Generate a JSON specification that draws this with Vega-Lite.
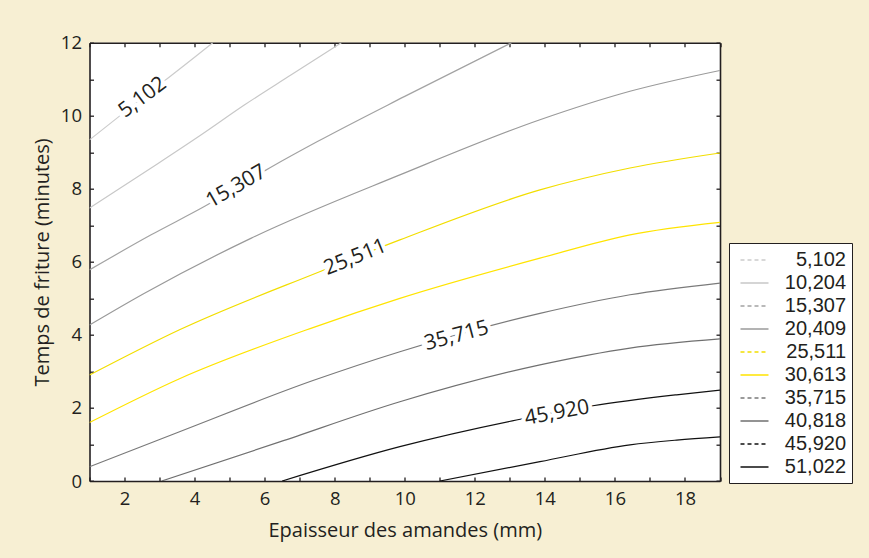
{
  "$schema": "https://vega.github.io/schema/vega-lite/v6.json",
  "width": 630.5,
  "height": 438.3,
  "autosize": {"type": "none"},
  "padding": {"left": 89.5, "top": 42.7, "right": 149, "bottom": 77},
  "background": "#f7efd3",
  "config": {
    "view": {"stroke": null, "fill": "white"},
    "font": "Open Sans",
    "axis": {
      "grid": false,
      "domainColor": "#231f20",
      "domainWidth": 1.6,
      "tickColor": "#231f20",
      "tickWidth": 1.3,
      "tickSize": -4,
      "labelFont": "Open Sans",
      "labelFontSize": 18.5,
      "labelColor": "#231f20",
      "titleFont": "Open Sans",
      "titleFontSize": 20,
      "titleFontWeight": "normal",
      "titleColor": "#231f20"
    }
  },
  "datasets": {
    "lines": [
      {"level": "5,102", "x": 1, "y": 9.34},
      {"level": "5,102", "x": 2, "y": 10.1},
      {"level": "5,102", "x": 3, "y": 10.85},
      {"level": "5,102", "x": 4, "y": 11.6},
      {"level": "5,102", "x": 4.52, "y": 12},
      {"level": "10,204", "x": 1, "y": 7.47},
      {"level": "10,204", "x": 2.76, "y": 8.57},
      {"level": "10,204", "x": 4.19, "y": 9.48},
      {"level": "10,204", "x": 5.43, "y": 10.3},
      {"level": "10,204", "x": 6.76, "y": 11.12},
      {"level": "10,204", "x": 8.19, "y": 12},
      {"level": "15,307", "x": 1, "y": 5.78},
      {"level": "15,307", "x": 2.76, "y": 6.74},
      {"level": "15,307", "x": 4.29, "y": 7.52},
      {"level": "15,307", "x": 6.14, "y": 8.57},
      {"level": "15,307", "x": 7.52, "y": 9.3},
      {"level": "15,307", "x": 10, "y": 10.53},
      {"level": "15,307", "x": 13.05, "y": 12},
      {"level": "20,409", "x": 1, "y": 4.27},
      {"level": "20,409", "x": 2.57, "y": 5.14},
      {"level": "20,409", "x": 5.62, "y": 6.65},
      {"level": "20,409", "x": 9.86, "y": 8.38},
      {"level": "20,409", "x": 13.86, "y": 9.89},
      {"level": "20,409", "x": 16.43, "y": 10.67},
      {"level": "20,409", "x": 19, "y": 11.24},
      {"level": "25,511", "x": 1, "y": 2.9},
      {"level": "25,511", "x": 3.57, "y": 4.14},
      {"level": "25,511", "x": 7.57, "y": 5.73},
      {"level": "25,511", "x": 9.86, "y": 6.6},
      {"level": "25,511", "x": 13.86, "y": 7.97},
      {"level": "25,511", "x": 16.43, "y": 8.57},
      {"level": "25,511", "x": 19, "y": 8.98},
      {"level": "30,613", "x": 1, "y": 1.6},
      {"level": "30,613", "x": 3.57, "y": 2.8},
      {"level": "30,613", "x": 7.38, "y": 4.2},
      {"level": "30,613", "x": 9.86, "y": 5.0},
      {"level": "30,613", "x": 13.86, "y": 6.1},
      {"level": "30,613", "x": 16.43, "y": 6.74},
      {"level": "30,613", "x": 19, "y": 7.08},
      {"level": "35,715", "x": 1, "y": 0.39},
      {"level": "35,715", "x": 3.57, "y": 1.35},
      {"level": "35,715", "x": 7.38, "y": 2.75},
      {"level": "35,715", "x": 9.86, "y": 3.54},
      {"level": "35,715", "x": 13.86, "y": 4.59},
      {"level": "35,715", "x": 16.43, "y": 5.1},
      {"level": "35,715", "x": 19, "y": 5.42},
      {"level": "40,818", "x": 3.06, "y": 0},
      {"level": "40,818", "x": 6.43, "y": 1.07},
      {"level": "40,818", "x": 9.86, "y": 2.17},
      {"level": "40,818", "x": 13.86, "y": 3.18},
      {"level": "40,818", "x": 16.43, "y": 3.64},
      {"level": "40,818", "x": 19, "y": 3.89},
      {"level": "45,920", "x": 6.5, "y": 0},
      {"level": "45,920", "x": 9.86, "y": 0.94},
      {"level": "45,920", "x": 13.19, "y": 1.67},
      {"level": "45,920", "x": 15.37, "y": 2.06},
      {"level": "45,920", "x": 17.76, "y": 2.36},
      {"level": "45,920", "x": 19, "y": 2.49},
      {"level": "51,022", "x": 11, "y": 0},
      {"level": "51,022", "x": 13.86, "y": 0.53},
      {"level": "51,022", "x": 16.43, "y": 0.99},
      {"level": "51,022", "x": 17.76, "y": 1.12},
      {"level": "51,022", "x": 19, "y": 1.21}
    ],
    "labels": [
      {"level": "5,102", "x": 2.52, "y": 10.5},
      {"level": "15,307", "x": 5.19, "y": 8.06},
      {"level": "25,511", "x": 8.59, "y": 6.12},
      {"level": "35,715", "x": 11.48, "y": 3.97},
      {"level": "45,920", "x": 14.35, "y": 1.86}
    ]
  },
  "layer": [
    {
      "data": {"name": "lines"},
      "mark": {"type": "line", "strokeWidth": 1.2, "clip": true, "interpolate": "monotone"},
      "encoding": {
        "x": {
          "field": "x", "type": "quantitative",
          "scale": {"domain": [1, 19], "nice": false, "zero": false},
          "axis": {
            "orient": "bottom",
            "values": [1,2,3,4,5,6,7,8,9,10,11,12,13,14,15,16,17,18,19],
            "labelExpr": "datum.value % 2 == 0 ? datum.label : ''",
            "labelPadding": 12,
            "title": "Epaisseur des amandes (mm)",
            "titlePadding": 13
          }
        },
        "y": {
          "field": "y", "type": "quantitative",
          "scale": {"domain": [0, 12], "nice": false, "zero": false},
          "axis": {
            "orient": "left",
            "values": [0,1,2,3,4,5,6,7,8,9,10,11,12],
            "labelExpr": "datum.value % 2 == 0 ? datum.label : ''",
            "labelPadding": 12,
            "title": "Temps de friture (minutes)",
            "titlePadding": 8
          }
        },
        "color": {
          "field": "level", "type": "nominal",
          "scale": {
            "domain": ["5,102","10,204","15,307","20,409","25,511","30,613","35,715","40,818","45,920","51,022"],
            "range": ["#cccccc","#c8c8c8","#a3a3a3","#9a9a9a","#f2de00","#ffe400","#7a7a7a","#707070","#111111","#111111"]
          },
          "legend": {
            "orient": "none",
            "legendX": 639.5,
            "legendY": 200.3,
            "title": null,
            "symbolType": "M-1.4,0H1.4",
            "symbolSize": 400,
            "symbolStrokeWidth": 1.5,
            "symbolOffset": 8.5,
            "labelFont": "Liberation Sans",
            "labelFontSize": 20,
            "labelColor": "#231f20",
            "labelAlign": "right",
            "labelOffset": 80.5,
            "rowPadding": 2,
            "padding": 6,
            "strokeColor": "#231f20",
            "fillColor": "white",
            "encode": {
              "symbols": {
                "update": {
                  "strokeDash": {"signal": "indexof(['5,102','15,307','25,511','35,715','45,920'], datum.value) >= 0 ? [4, 3] : [1, 0]"}
                }
              }
            }
          }
        }
      }
    },
    {
      "data": {"name": "labels"},
      "mark": {"type": "text", "fill": "white", "stroke": "white", "strokeWidth": 8, "fontSize": 21, "font": "Open Sans"},
      "encoding": {
        "x": {
          "field": "x", "type": "quantitative",
          "axis": {
            "orient": "top",
            "values": [1,2,3,4,5,6,7,8,9,10,11,12,13,14,15,16,17,18,19],
            "labels": false,
            "title": null
          }
        },
        "y": {
          "field": "y", "type": "quantitative",
          "axis": {
            "orient": "right",
            "values": [0,1,2,3,4,5,6,7,8,9,10,11,12],
            "labels": false,
            "title": null
          }
        },
        "text": {"field": "level"},
        "angle": {
          "field": "level", "type": "nominal",
          "scale": {"type": "ordinal", "domain": ["5,102","15,307","25,511","35,715","45,920"], "range": [-37, -30, -22, -15, -10.5]},
          "legend": null
        }
      }
    },
    {
      "data": {"name": "labels"},
      "mark": {"type": "text", "fill": "#231f20", "fontSize": 21, "font": "Open Sans"},
      "encoding": {
        "x": {"field": "x", "type": "quantitative", "axis": null},
        "y": {"field": "y", "type": "quantitative", "axis": null},
        "text": {"field": "level"},
        "angle": {
          "field": "level", "type": "nominal",
          "scale": {"type": "ordinal", "domain": ["5,102","15,307","25,511","35,715","45,920"], "range": [-37, -30, -22, -15, -10.5]},
          "legend": null
        }
      }
    }
  ],
  "resolve": {"axis": {"x": "independent", "y": "independent"}}
}
